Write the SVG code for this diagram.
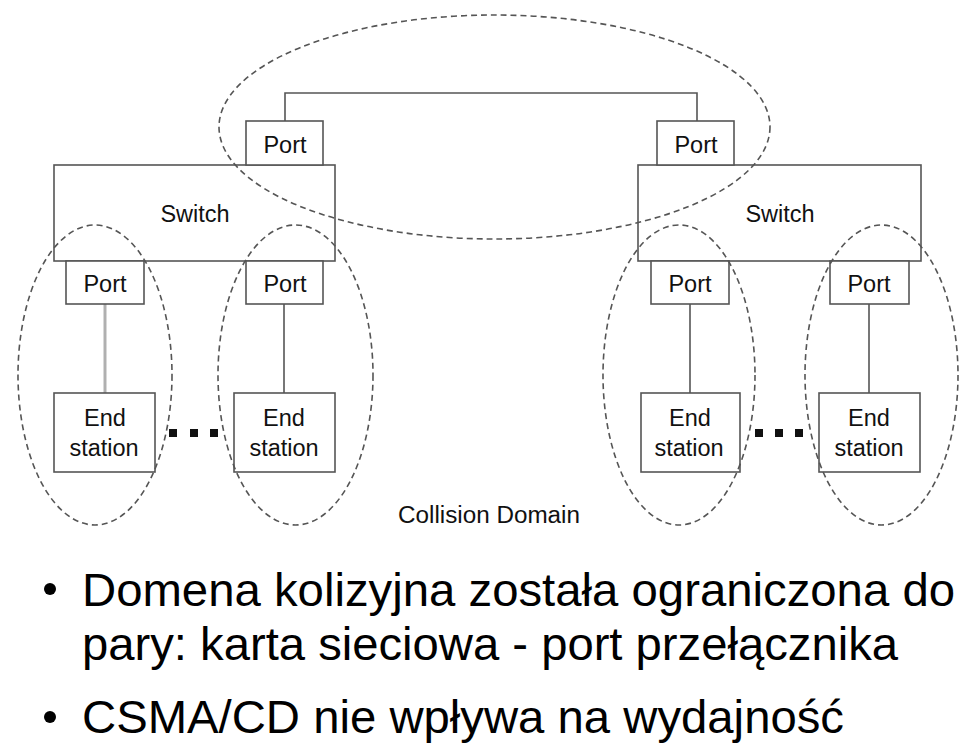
<svg xmlns="http://www.w3.org/2000/svg" width="960" height="746" viewBox="0 0 960 746">
<style>
.box{fill:#fff;stroke:#555;stroke-width:1.6}
.lbl{font-family:"Liberation Sans",Arial,sans-serif;font-size:23.5px;fill:#111;text-anchor:middle}
.dom{fill:none;stroke:#555;stroke-width:1.6;stroke-dasharray:6 4}
.wire{fill:none;stroke:#555;stroke-width:1.6}
.dot{fill:#111}
.bul{font-family:"Liberation Sans",Arial,sans-serif;font-size:47px;fill:#000}
</style>
<rect width="960" height="746" fill="#fff"/>
<g id="connectors">
<path class="wire" d="M285,121 V93 H697 V121"/>
<line x1="105" y1="304" x2="105" y2="393" stroke="#b0b0b0" stroke-width="3"/>
<line class="wire" x1="284" y1="304" x2="284" y2="393"/>
<line class="wire" x1="690" y1="304" x2="690" y2="393"/>
<line class="wire" x1="869" y1="304" x2="869" y2="393"/>
</g>
<g id="switch-left">
<rect class="box" x="54" y="165" width="281" height="96"/>
<text class="lbl" x="195" y="222">Switch</text>
</g>
<g id="switch-right">
<rect class="box" x="638" y="165" width="283" height="96"/>
<text class="lbl" x="780" y="222">Switch</text>
</g>
<g id="port-top-left">
<rect class="box" x="246" y="121" width="77" height="44"/>
<text class="lbl" x="285" y="153">Port</text>
</g>
<g id="port-top-right">
<rect class="box" x="657" y="121" width="77" height="44"/>
<text class="lbl" x="696" y="153">Port</text>
</g>
<g id="port-1">
<rect class="box" x="66" y="261" width="78" height="43"/>
<text class="lbl" x="105" y="292">Port</text>
</g>
<g id="port-2">
<rect class="box" x="246" y="261" width="77" height="43"/>
<text class="lbl" x="285" y="292">Port</text>
</g>
<g id="port-3">
<rect class="box" x="651" y="261" width="78" height="43"/>
<text class="lbl" x="690" y="292">Port</text>
</g>
<g id="port-4">
<rect class="box" x="830" y="261" width="79" height="43"/>
<text class="lbl" x="869" y="292">Port</text>
</g>
<g id="end-station-1">
<rect class="box" x="54" y="393" width="101" height="79"/>
<text class="lbl" x="105" y="426">End</text>
<text class="lbl" x="104" y="456">station</text>
</g>
<g id="end-station-2">
<rect class="box" x="234" y="393" width="101" height="79"/>
<text class="lbl" x="284" y="426">End</text>
<text class="lbl" x="284" y="456">station</text>
</g>
<g id="end-station-3">
<rect class="box" x="641" y="393" width="99" height="79"/>
<text class="lbl" x="690" y="426">End</text>
<text class="lbl" x="689" y="456">station</text>
</g>
<g id="end-station-4">
<rect class="box" x="819" y="393" width="101" height="79"/>
<text class="lbl" x="869" y="426">End</text>
<text class="lbl" x="869" y="456">station</text>
</g>
<g id="ellipsis-left">
<rect class="dot" x="169" y="429" width="8" height="8"/>
<rect class="dot" x="190" y="429" width="8" height="8"/>
<rect class="dot" x="210" y="429" width="8" height="8"/>
</g>
<g id="ellipsis-right">
<rect class="dot" x="755" y="429" width="8" height="8"/>
<rect class="dot" x="775" y="429" width="8" height="8"/>
<rect class="dot" x="795" y="429" width="8" height="8"/>
</g>
<g id="collision-domains">
<ellipse class="dom" cx="494.5" cy="127" rx="275.5" ry="112"/>
<ellipse class="dom" cx="95" cy="375" rx="77" ry="150"/>
<ellipse class="dom" cx="295.5" cy="375" rx="77.5" ry="150"/>
<ellipse class="dom" cx="679" cy="375" rx="76" ry="150"/>
<ellipse class="dom" cx="881.5" cy="375" rx="76.5" ry="150"/>
</g>
<g id="legend">
<text class="lbl" x="489" y="523" textLength="182" lengthAdjust="spacingAndGlyphs">Collision Domain</text>
</g>
<g id="bullets">
<circle cx="50" cy="589" r="6" fill="#000"/>
<text class="bul" x="82" y="606" textLength="873" lengthAdjust="spacingAndGlyphs">Domena kolizyjna została ograniczona do</text>
<text class="bul" x="82" y="660" textLength="816" lengthAdjust="spacingAndGlyphs">pary: karta sieciowa - port przełącznika</text>
<circle cx="50" cy="717" r="6" fill="#000"/>
<text class="bul" x="82" y="733" textLength="762" lengthAdjust="spacingAndGlyphs">CSMA/CD nie wpływa na wydajność</text>
</g>
</svg>
